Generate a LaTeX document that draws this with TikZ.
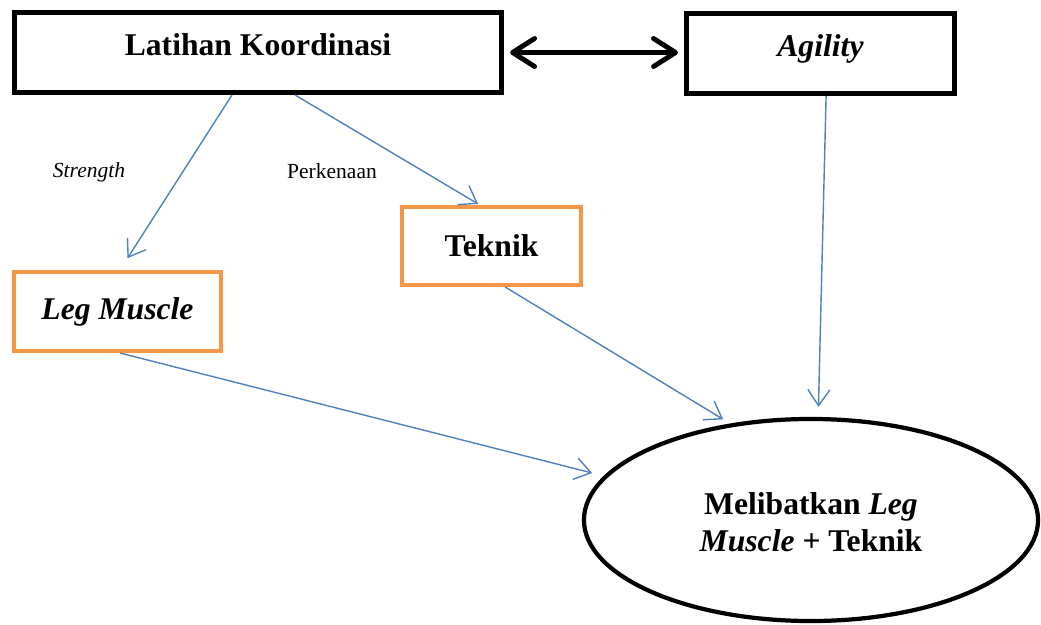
\documentclass[tikz,border=0pt]{standalone}
\usepackage{fontspec}
\setmainfont{Liberation Serif}
\usepackage{tikz}
\usetikzlibrary{arrows.meta,shapes.geometric}
\definecolor{Orange}{HTML}{F79646}
\definecolor{Blue}{HTML}{4F81BD}
\newcommand{\bigtxt}{\fontsize{22.5}{26.3}\selectfont\bfseries}
\newcommand{\smalltxt}{\fontsize{15.3}{18}\selectfont}

\begin{document}
\begin{tikzpicture}[x=0.025cm,y=-0.025cm,font=\bigtxt,
    blackbox/.style={draw,line width=3.5pt,minimum height=2cm,text height=15.5pt,text depth=10.7pt},
    orangebox/.style={draw=Orange,line width=2.8pt,minimum height=1.95cm},
    flow/.style={draw=Blue,line width=1pt,-{Straight Barb[length=0.4cm,width=0.55cm]}}]
    \useasboundingbox (0,0) rectangle (1041,625);
    \node[blackbox,minimum width=12.18cm] (lk) at (258,52.5) {Latihan Koordinasi};
    \node[blackbox,minimum width=6.7cm] (ag) at (820.5,53.5) {\textit{Agility}};
    \node[orangebox,minimum width=4.475cm] (tk) at (491.5,246) {Teknik};
    \node[orangebox,minimum width=5.175cm,minimum height=1.975cm] (lm) at (117.5,311.5) {\textit{Leg Muscle}};
    \node[ellipse,draw,line width=3pt,minimum width=11.35cm,minimum height=5.05cm,align=center,text height=45pt,text depth=0pt] (mb) at (811,520) {Melibatkan \textit{Leg}\\\textit{Muscle} + Teknik};
    \node[font=\smalltxt\itshape] (str) at (89,172) {Strength};
    \node[font=\smalltxt] (pk) at (332,171) {Perkenaan};
    % hubungan dua arah
    \draw[line width=3.5pt,{Straight Barb[round,length=0.55cm,width=0.7cm]}-{Straight Barb[round,length=0.55cm,width=0.7cm]},shorten <=0.15cm,shorten >=0.15cm] (lk.east) -- (lk.east -| ag.west);
    % panah biru
    \draw[flow,shorten >=0.35cm] ([xshift=-0.65cm]lk.south) -- ([xshift=0.06cm]lm.north);
    \draw[flow,shorten >=0.05cm] ([xshift=0.925cm]lk.south) -- ([xshift=-0.29cm]tk.north);
    \draw[flow,shorten >=0.25cm] ([xshift=0.14cm]ag.south) -- ([xshift=0.18cm]mb.north);
    \draw[flow,shorten >=0.2cm] ([xshift=0.34cm]tk.south) -- (mb.130);
    \draw[flow,shorten >=0.3cm] ([xshift=0.06cm]lm.south) -- (mb.168);
\end{tikzpicture}
\end{document}
